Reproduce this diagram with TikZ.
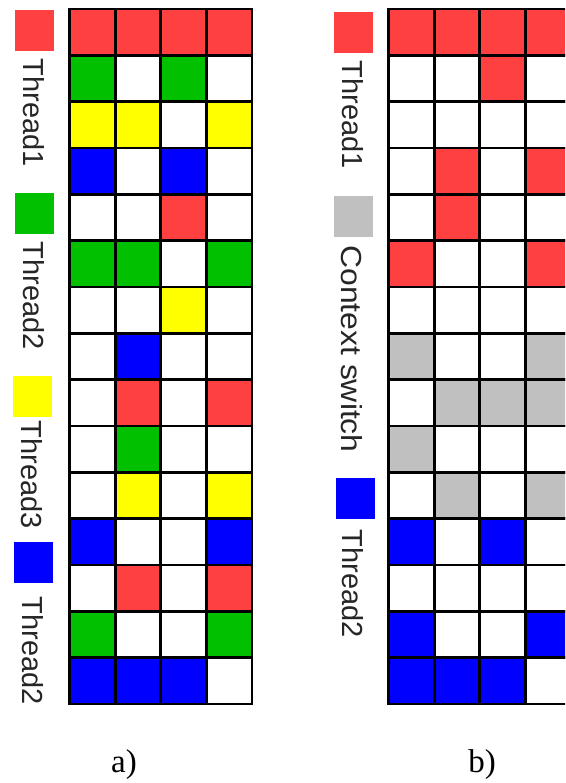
\documentclass[tikz,border=0pt]{standalone}
\usepackage{fontspec}
\usepackage{graphicx}
\setmainfont{Liberation Serif}
\setsansfont{Liberation Sans}
\definecolor{cR}{HTML}{FF4040}
\definecolor{cG}{HTML}{00C000}
\definecolor{cY}{HTML}{FFFF00}
\definecolor{cB}{HTML}{0000FF}
\definecolor{cS}{HTML}{C0C0C0}
\definecolor{cW}{HTML}{FFFFFF}
\tikzset{
  cell/.style={draw=black, line width=2.8pt, minimum width=45.6pt, minimum height=46.33pt, inner sep=0pt, outer sep=0pt},
  legsq/.style={minimum width=39pt, minimum height=41pt, inner sep=0pt},
  leglabel/.style={font=\sffamily\fontsize{29}{30}\selectfont, text=black!85, rotate=-90, inner sep=0pt},
  caption/.style={font=\fontsize{33}{35}\selectfont, inner sep=0pt}
}
\begin{document}
\begin{tikzpicture}[x=1pt,y=-1pt]
\useasboundingbox (0,0) rectangle (565,783);
\clip (0,0) rectangle (565,783);
\fill[white] (0,0) rectangle (565,783);
% left grid
\foreach \row [count=\r] in {
  {R,R,R,R},{G,W,G,W},{Y,Y,W,Y},{B,W,B,W},{W,W,R,W},
  {G,G,W,G},{W,W,Y,W},{W,B,W,W},{W,R,W,R},{W,G,W,W},
  {W,Y,W,Y},{B,W,W,B},{W,R,W,R},{G,W,W,G},{B,B,B,W}}{
  \foreach \c [count=\k] in \row {
    \node[cell, fill=c\c] (L-\r-\k) at ({69.5+(\k-0.5)*45.6},{9+(\r-0.5)*46.33}) {};
  }
}
% right grid
\foreach \row [count=\r] in {
  {R,R,R,R},{W,W,R,W},{W,W,W,W},{W,R,W,R},{W,R,W,W},
  {R,W,W,R},{W,W,W,W},{S,W,W,S},{W,S,S,S},{S,W,W,W},
  {W,S,W,S},{B,W,B,W},{W,W,W,W},{B,W,W,B},{B,B,B,W}}{
  \foreach \c [count=\k] in \row {
    \node[cell, fill=c\c] (R-\r-\k) at ({388.5+(\k-0.5)*45.6},{9+(\r-0.5)*46.33}) {};
  }
}
% left legend
\node[legsq, fill=cR] (la) at (34,31) {};
\node[leglabel] (lat) at (34,113) {Thread1};
\node[legsq, fill=cG] (lb) at (34,214) {};
\node[leglabel] (lbt) at (34,296) {Thread2};
\node[legsq, fill=cY] (lc) at (32,396) {};
\node[leglabel] (lct) at (32,475) {Thread3};
\node[legsq, fill=cB] (ld) at (33,562) {};
\node[leglabel] (ldt) at (33,651) {Thread2};
% right legend
\node[legsq, fill=cR] (ra) at (353,33) {};
\node[leglabel] (rat) at (353,115) {Thread1};
\node[legsq, fill=cS] (rb) at (353,217) {};
\node[leglabel] (rbt) at (352,349) {\scalebox{1.1}[1]{Context switch}};
\node[legsq, fill=cB] (rc) at (355,498) {};
\node[leglabel] (rct) at (353,584) {Thread2};
% captions
\node[caption] (capa) at (124,765) {a)};
\node[caption] (capb) at (482,765) {b)};
\end{tikzpicture}
\end{document}
